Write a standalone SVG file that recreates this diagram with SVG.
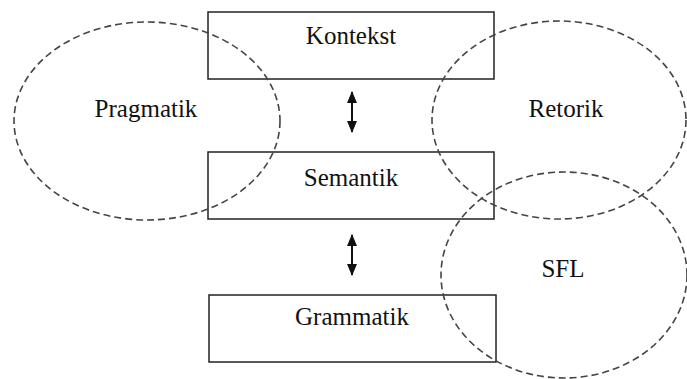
<svg xmlns="http://www.w3.org/2000/svg" width="687" height="379" viewBox="0 0 687 379">
<style>
.box{fill:none;stroke:#222;stroke-width:1.5}
.ell{fill:none;stroke:#444;stroke-width:1.6;stroke-dasharray:7 4}
.lbl{font-family:"Liberation Serif",serif;font-size:25px;fill:#111;text-anchor:middle}
.arr{stroke:#111;stroke-width:2;fill:none;marker-start:url(#ah);marker-end:url(#ah)}
</style>
<defs>
<marker id="ah" viewBox="0 0 12 10" refX="11" refY="5" markerWidth="12" markerHeight="10" markerUnits="userSpaceOnUse" orient="auto-start-reverse">
<path d="M0,0 L12,5 L0,10 Z" fill="#111"/>
</marker>
</defs>
<rect width="687" height="379" fill="#fff"/>
<g id="kontekst"><rect class="box" x="208" y="12" width="286" height="67"/><text class="lbl" x="351" y="44">Kontekst</text></g>
<g id="semantik"><rect class="box" x="208" y="152" width="286" height="67"/><text class="lbl" x="351" y="186">Semantik</text></g>
<g id="grammatik"><rect class="box" x="209" y="295" width="287" height="67"/><text class="lbl" x="352" y="325">Grammatik</text></g>
<g id="pragmatik"><ellipse class="ell" cx="147" cy="121" rx="133" ry="99"/><text class="lbl" x="146" y="117">Pragmatik</text></g>
<g id="retorik"><ellipse class="ell" cx="559" cy="120" rx="127" ry="99"/><text class="lbl" x="566" y="117">Retorik</text></g>
<g id="sfl"><ellipse class="ell" cx="564" cy="275" rx="123" ry="103"/><text class="lbl" x="563" y="277">SFL</text></g>
<g id="connectors">
<line class="arr" x1="352" y1="92" x2="352" y2="132"/>
<line class="arr" x1="352" y1="235" x2="352" y2="275"/>
</g>
</svg>
